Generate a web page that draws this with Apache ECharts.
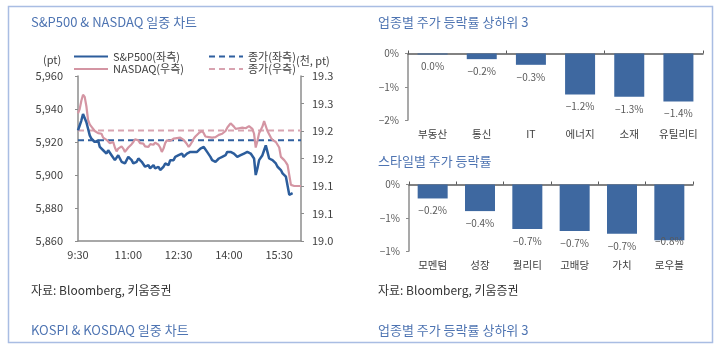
<!DOCTYPE html>
<html>
<head>
<meta charset="utf-8">
<script src="https://cdn.jsdelivr.net/npm/echarts@6/dist/echarts.min.js"></script>
<style>
  html, body { margin: 0; padding: 0; background: #fff; }
  #main { width: 720px; height: 351px; }
</style>
</head>
<body>
<div id="main"></div>
<script>
// intraday values, one point every 3 minutes from 9:30
const startMinute = 9 * 60 + 30
const stepMinutes = 3
const pointCount = 134

const spValues = [
  5927, 5930, 5933, 5937, 5938, 5932, 5928, 5924, 5922, 5923,
  5920, 5919, 5921, 5917, 5918, 5915, 5916, 5913, 5915, 5914,
  5912, 5913, 5909, 5910, 5912, 5911, 5908, 5909, 5907, 5909,
  5911, 5912, 5909, 5907, 5906, 5908, 5910, 5910, 5908, 5907,
  5905, 5905, 5906, 5904, 5904, 5906, 5904, 5904, 5905, 5903,
  5902, 5905, 5907, 5908, 5906, 5909, 5908, 5909, 5911, 5910,
  5912, 5911, 5913, 5911, 5911, 5913, 5912, 5914, 5913, 5914,
  5915, 5914, 5915, 5916, 5917, 5917, 5916, 5914, 5913, 5911,
  5909, 5910, 5908, 5909, 5910, 5909, 5911, 5911, 5912, 5914,
  5913, 5914, 5914, 5913, 5912, 5911, 5911, 5912, 5913, 5913,
  5914, 5914, 5913, 5913, 5912, 5910, 5900, 5904, 5909, 5910,
  5912, 5915, 5918, 5914, 5910, 5910, 5909, 5908, 5907, 5905,
  5904, 5903, 5901, 5900, 5899, 5898, 5888, 5887, 5889
]

const nasdaqValues = [
  19232, 19240, 19255, 19266, 19262, 19245, 19220, 19212, 19208, 19206,
  19200, 19203, 19196, 19193, 19195, 19188, 19190, 19184, 19186, 19178,
  19176, 19180, 19170, 19163, 19168, 19165, 19172, 19168, 19162, 19165,
  19170, 19168, 19176, 19180, 19185, 19187, 19183, 19178, 19175, 19177,
  19172, 19174, 19171, 19176, 19178, 19175, 19179, 19176, 19175, 19170,
  19162, 19168, 19178, 19183, 19184, 19182, 19185, 19186, 19183, 19187,
  19185, 19188, 19187, 19184, 19180, 19176, 19171, 19175, 19180, 19186,
  19190, 19193, 19196, 19198, 19200, 19196, 19190, 19187, 19189, 19186,
  19188, 19190, 19189, 19192, 19193, 19196, 19195, 19198, 19200, 19206,
  19210, 19214, 19215, 19208, 19204, 19202, 19205, 19208, 19206, 19204,
  19205, 19207, 19209, 19208, 19204, 19195, 19170, 19182, 19196, 19202,
  19208, 19218, 19220, 19200, 19194, 19188, 19184, 19183, 19180, 19181,
  19170, 19153, 19150, 19147, 19143, 19138, 19120, 19102, 19101, 19100,
  19100, 19100, 19100, 19100
]

const spClose = 5921
const nasdaqClose = 19201

const spTicks = ['5,860', '5,880', '5,900', '5,920', '5,940', '5,960']
const nasdaqTicks = ['19.0', '19.1', '19.1', '19.2', '19.2', '19.3', '19.3']

const sectorNames = ['부동산', '통신', 'IT', '에너지', '소재', '유틸리티']
const sectorValues = [-0.03, -0.17, -0.34, -1.23, -1.30, -1.44]
const sectorTicks = ['−2%', '−1%', '0%']

const styleNames = ['모멘텀', '성장', '퀄리티', '고배당', '가치', '로우볼']
const styleValues = [-0.21, -0.40, -0.67, -0.70, -0.74, -0.84]
const styleTicks = ['−1%', '−1%', '0%']

const FONT = '"Noto Sans CJK KR", "Noto Sans", sans-serif'
const TITLE_COLOR = '#4e74b2'
const AXIS_GREY = '#8c8c8c'
const BAR_BLUE = '#3e68a0'

let times = []
for (let i = 0; i < pointCount; i++) {
  let m = startMinute + i * stepMinutes
  times.push(Math.floor(m / 60) + ':' + String(m % 60).padStart(2, '0'))
}

function tickFormatter (labels, min, interval) {
  return function (v) {
    return labels[Math.round((v - min) / interval)] || ''
  }
}

function pctLabel (v) {
  if (Math.abs(v) < 0.05) return '0.0%'
  return '−' + Math.abs(v).toFixed(1) + '%'
}

function barSeries (values, xIdx, yIdx, min) {
  return {
    type: 'bar',
    xAxisIndex: xIdx,
    yAxisIndex: yIdx,
    barWidth: 30,
    itemStyle: { color: BAR_BLUE },
    data: values.map(function (v) {
      // labels that would fall off the plot sit on the bar end instead
      let tight = v - min < 0.2 * Math.abs(min)
      return {
        value: v,
        label: { distance: tight ? -4 : 7 }
      }
    }),
    label: {
      show: true,
      position: 'bottom',
      formatter: function (p) { return pctLabel(p.value) },
      fontFamily: FONT,
      fontSize: 10,
      color: '#595959'
    }
  }
}

function flatLine (value, count) {
  let arr = []
  for (let i = 0; i < count; i++) arr.push(value)
  return arr
}

const chart = echarts.init(document.getElementById('main'), null, { renderer: 'canvas' })

const catAxisCommon = {
  type: 'category',
  axisLine: { lineStyle: { color: '#595959', width: 1.5 } },
  axisTick: { show: true, alignWithLabel: false, length: 3, lineStyle: { color: '#595959' } },
  axisLabel: { show: false },
  splitLine: { show: false }
}

const legendCommon = {
  top: 46, orient: 'vertical', itemGap: 1.5,
  itemWidth: 34, itemHeight: 12,
  itemStyle: { opacity: 0 },
  textStyle: { fontFamily: FONT, fontSize: 11, color: '#404040' }
}

const option = {
  animation: false,
  backgroundColor: '#fff',
  textStyle: { fontFamily: FONT },
  graphic: [
    {
      type: 'rect',
      shape: { x: 8.5, y: 6.5, width: 704, height: 336 },
      style: { fill: 'none', stroke: '#a9bde3', lineWidth: 1.5 },
      silent: true
    },
    { type: 'text', left: 31, top: 16, style: { text: 'S&P500 & NASDAQ 일중 차트', fill: TITLE_COLOR, font: '13px ' + FONT } },
    { type: 'text', left: 378, top: 16, style: { text: '업종별 주가 등락률 상하위 3', fill: TITLE_COLOR, font: '13px ' + FONT } },
    { type: 'text', left: 378, top: 155, style: { text: '스타일별 주가 등락률', fill: TITLE_COLOR, font: '13px ' + FONT } },
    { type: 'text', left: 31, top: 284, style: { text: '자료: Bloomberg, 키움증권', fill: '#333', font: '12px ' + FONT } },
    { type: 'text', left: 378, top: 284, style: { text: '자료: Bloomberg, 키움증권', fill: '#333', font: '12px ' + FONT } },
    { type: 'text', left: 31, top: 324, style: { text: 'KOSPI & KOSDAQ 일중 차트', fill: TITLE_COLOR, font: '13px ' + FONT } },
    { type: 'text', left: 378, top: 324, style: { text: '업종별 주가 등락률 상하위 3', fill: TITLE_COLOR, font: '13px ' + FONT } },
    { type: 'text', left: 43, top: 54, style: { text: '(pt)', fill: '#404040', font: '11px ' + FONT } },
    { type: 'text', left: 296, top: 55, style: { text: '(천, pt)', fill: '#404040', font: '11px ' + FONT } }
  ],
  legend: [
    Object.assign({}, legendCommon, { left: 68, data: ['S&P500(좌측)', 'NASDAQ(우측)'] }),
    Object.assign({}, legendCommon, { left: 203, data: ['종가(좌측)', '종가(우측)'] })
  ],
  grid: [
    { left: 78, right: 419, top: 76, bottom: 110 },
    { left: 408, right: 17, top: 53.5, bottom: 231 },
    { left: 409, right: 27, top: 184.5, bottom: 100 }
  ],
  xAxis: [
    {
      type: 'category',
      gridIndex: 0,
      data: times,
      boundaryGap: false,
      axisLine: { lineStyle: { color: AXIS_GREY, width: 1.5 } },
      axisTick: { show: false },
      axisLabel: { interval: 29, fontSize: 11, color: '#404040', margin: 8, fontFamily: FONT },
      splitLine: { show: false }
    },
    Object.assign({}, catAxisCommon, { gridIndex: 1, position: 'top', data: sectorNames }),
    {
      type: 'category', gridIndex: 1, position: 'bottom', data: sectorNames,
      axisLine: { show: false }, axisTick: { show: false },
      axisLabel: { interval: 0, fontSize: 10.5, color: '#404040', margin: 9, fontFamily: FONT }
    },
    Object.assign({}, catAxisCommon, { gridIndex: 2, position: 'top', data: styleNames }),
    {
      type: 'category', gridIndex: 2, position: 'bottom', data: styleNames,
      axisLine: { show: false }, axisTick: { show: false },
      axisLabel: { interval: 0, fontSize: 10.5, color: '#404040', margin: 9, fontFamily: FONT }
    }
  ],
  yAxis: [
    {
      type: 'value', gridIndex: 0, position: 'left',
      min: 5860, max: 5960, interval: 20,
      axisLine: { show: true, lineStyle: { color: AXIS_GREY, width: 1.5 } },
      axisTick: { show: true, length: 3, lineStyle: { color: AXIS_GREY } },
      axisLabel: { fontSize: 11, color: '#404040', margin: 15, fontFamily: FONT, formatter: tickFormatter(spTicks, 5860, 20) },
      splitLine: { show: false }
    },
    {
      type: 'value', gridIndex: 0, position: 'right',
      min: 19000, max: 19300, interval: 50,
      axisLine: { show: true, lineStyle: { color: AXIS_GREY, width: 1.5 } },
      axisTick: { show: true, length: 3, lineStyle: { color: AXIS_GREY } },
      axisLabel: { fontSize: 11, color: '#404040', margin: 11, fontFamily: FONT, formatter: tickFormatter(nasdaqTicks, 19000, 50) },
      splitLine: { show: false }
    },
    {
      type: 'value', gridIndex: 1,
      min: -2, max: 0, interval: 1,
      axisLine: { show: true, lineStyle: { color: AXIS_GREY, width: 1.5 } },
      axisTick: { show: true, length: 3, lineStyle: { color: AXIS_GREY } },
      axisLabel: { fontSize: 10, color: '#595959', margin: 9, fontFamily: FONT, formatter: tickFormatter(sectorTicks, -2, 1) },
      splitLine: { show: false }
    },
    {
      type: 'value', gridIndex: 2,
      min: -1, max: 0, interval: 0.5,
      axisLine: { show: true, lineStyle: { color: AXIS_GREY, width: 1.5 } },
      axisTick: { show: true, length: 3, lineStyle: { color: AXIS_GREY } },
      axisLabel: { fontSize: 10, color: '#595959', margin: 9, fontFamily: FONT, formatter: tickFormatter(styleTicks, -1, 0.5) },
      splitLine: { show: false }
    }
  ],
  series: [
    {
      name: '종가(우측)', type: 'line', xAxisIndex: 0, yAxisIndex: 1,
      symbol: 'none', data: flatLine(nasdaqClose, pointCount),
      lineStyle: { color: '#d8a3b0', width: 2, type: [6, 4] },
      itemStyle: { color: '#d8a3b0' }
    },
    {
      name: '종가(좌측)', type: 'line', xAxisIndex: 0, yAxisIndex: 0,
      symbol: 'none', data: flatLine(spClose, pointCount),
      lineStyle: { color: '#2f5f9f', width: 2, type: [6, 4] },
      itemStyle: { color: '#2f5f9f' }
    },
    {
      name: 'NASDAQ(우측)', type: 'line', xAxisIndex: 0, yAxisIndex: 1,
      symbol: 'none', data: nasdaqValues,
      lineStyle: { color: '#d495a3', width: 2.2 },
      itemStyle: { color: '#d495a3' }
    },
    {
      name: 'S&P500(좌측)', type: 'line', xAxisIndex: 0, yAxisIndex: 0,
      symbol: 'none', data: spValues,
      lineStyle: { color: '#2c5d9c', width: 2.5 },
      itemStyle: { color: '#2c5d9c' }
    },
    barSeries(sectorValues, 2, 2, -2),
    barSeries(styleValues, 4, 3, -1)
  ]
}

chart.setOption(option)
</script>
</body>
</html>
